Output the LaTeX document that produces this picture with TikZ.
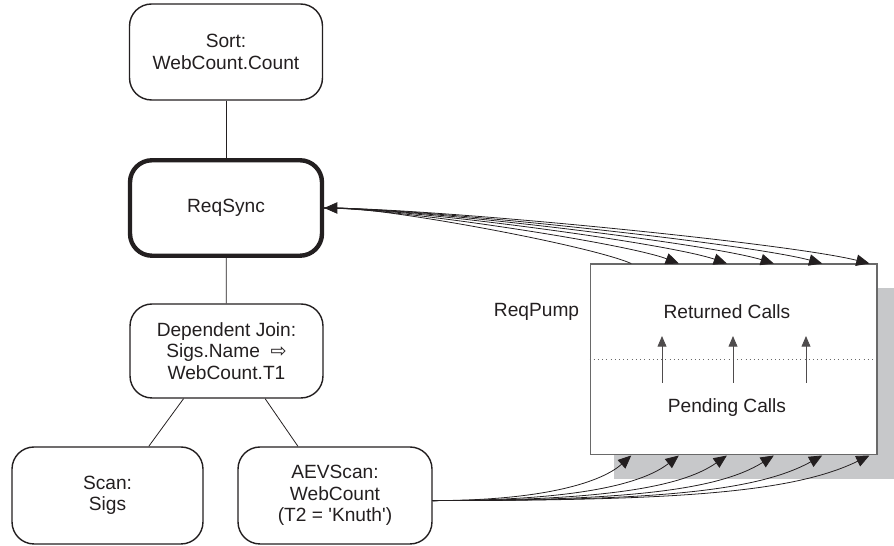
\documentclass[tikz,border=0pt]{standalone}
\usepackage{fontspec}
\setmainfont{Liberation Sans}
\newfontfamily\arrowfont{DejaVu Sans}
\usetikzlibrary{arrows.meta, positioning, calc, shadows}
\definecolor{inkcolor}{RGB}{35,31,32}
\definecolor{pumpgray}{RGB}{105,105,105}
\definecolor{shadegray}{RGB}{199,200,202}

\begin{document}
\begin{tikzpicture}[x=0.02cm, y=0.02cm, text=inkcolor, font=\fontsize{10.9pt}{12.3pt}\selectfont,
    opbox/.style={draw=inkcolor, line width=0.8pt, rounded corners=0.44cm, minimum width=3.86cm, minimum height=1.92cm, align=center, inner sep=0pt},
    syncbox/.style={opbox, line width=2.5pt},
    link/.style={draw=inkcolor, line width=0.45pt},
    call/.style={link, -{Triangle[length=7.5pt, width=6.5pt]}},
    fanout/.style={out=0, out looseness=0.5, in looseness=0.4},
    fanin/.style={out=0, out looseness=1.4, in looseness=0.5},
    pumparrow/.style={draw=inkcolor!80, line width=0.5pt, -{Triangle[length=6pt, width=5pt]}}]
    \useasboundingbox (0,0) rectangle (894,546);
    \node[opbox] (sort) at (226,494) {Sort:\\WebCount.Count};
    \node[syncbox, minimum width=3.84cm, minimum height=1.91cm] (reqsync) at (226,338) {ReqSync};
    \node[opbox, minimum height=1.88cm] (depjoin) at (226.5,195) {Dependent Join:\\Sigs.Name\ \ {\arrowfont ⇨}\\WebCount.T1};
    \node[opbox, minimum width=3.82cm, minimum height=1.94cm] (scan) at (107.5,50.5) {Scan:\\Sigs};
    \node[opbox, minimum width=3.88cm, minimum height=1.94cm] (aevscan) at (335,50.5) {AEVScan:\\WebCount\\(T2 = \textquotesingle Knuth\textquotesingle)};
    \node[draw=pumpgray, line width=0.6pt, fill=white, minimum width=5.74cm, minimum height=3.82cm, inner sep=0pt,
        drop shadow={shadow xshift=0.48cm, shadow yshift=-0.48cm, fill=shadegray, opacity=1}] (pump) at (733.5,186.5) {};
    \node[anchor=east, inner sep=0pt] (pumplabel) at ($(pump.north west)+(-10,-48)$) {ReqPump};
    \node (returned) at ($(pump.north)+(-6.5,-48)$) {Returned Calls};
    \node (pending) at ($(pump.south)+(-6.5,48)$) {Pending Calls};
    \draw[dotted, pumpgray] (pump.west) -- (pump.east);
    \draw[pumparrow] ($(pump.center)+(-71.5,-23.5)$) -- ++(0,47);
    \draw[pumparrow] ($(pump.center)+(-0.5,-23.5)$) -- ++(0,47);
    \draw[pumparrow] ($(pump.center)+(72.5,-23.5)$) -- ++(0,47);
    \draw[link] (sort) -- (reqsync);
    \draw[link] (reqsync) -- (depjoin);
    \draw[link] (depjoin.228.6) -- (scan.50.8);
    \draw[link] (depjoin.309.3) -- (aevscan.127.3);
    \draw[call, {Triangle[length=7.5pt, width=6.5pt]}-] (reqsync.east) to[fanout, in=157] ($(pump.north west)!0.145!(pump.north east)$);
    \draw[call] (reqsync.east) to[fanout, in=159] ($(pump.north west)!0.31!(pump.north east)$);
    \draw[call] (reqsync.east) to[fanout, in=161] ($(pump.north west)!0.477!(pump.north east)$);
    \draw[call] (reqsync.east) to[fanout, in=163] ($(pump.north west)!0.64!(pump.north east)$);
    \draw[call] (reqsync.east) to[fanout, in=165] ($(pump.north west)!0.808!(pump.north east)$);
    \draw[call] (reqsync.east) to[fanout, in=166] ($(pump.north west)!0.972!(pump.north east)$);
    \draw[call] (aevscan.-3) to[fanin, in=222] ($(pump.south west)!0.145!(pump.south east)$);
    \draw[call] (aevscan.-3) to[fanin, in=218] ($(pump.south west)!0.31!(pump.south east)$);
    \draw[call] (aevscan.-3) to[fanin, in=215] ($(pump.south west)!0.477!(pump.south east)$);
    \draw[call] (aevscan.-3) to[fanin, in=212] ($(pump.south west)!0.64!(pump.south east)$);
    \draw[call] (aevscan.-3) to[fanin, in=209] ($(pump.south west)!0.808!(pump.south east)$);
    \draw[call] (aevscan.-3) to[fanin, in=206] ($(pump.south west)!0.972!(pump.south east)$);
\end{tikzpicture}
\end{document}
